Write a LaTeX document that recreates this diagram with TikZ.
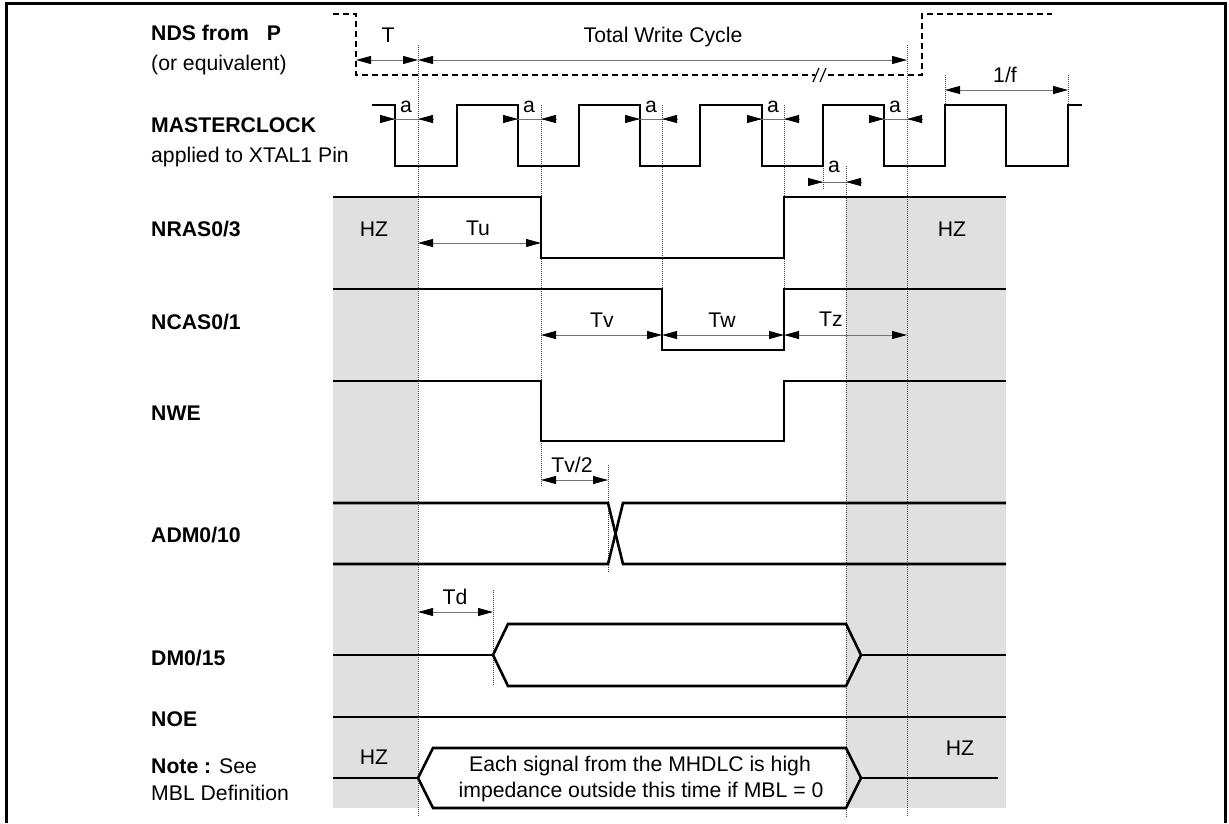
\documentclass[tikz,border=0pt]{standalone}
\usepackage{fontspec}
\setmainfont{Liberation Sans}
\usetikzlibrary{arrows.meta}
\tikzset{
  every node/.style={font=\fontsize{21.2}{25}\selectfont, inner sep=0pt},
  lbl/.style={anchor=west, text height=15.2pt, text depth=0pt},
  sig/.style={line width=2.6pt, line join=miter, line cap=butt},
  ndsdash/.style={line width=2.6pt, dash pattern=on 6pt off 4pt},
  vdot/.style={line width=0.8pt, draw=black!75, dash pattern=on 1pt off 1pt},
  hzfill/.style={fill=black!12},
  dimline/.style={line width=0.9pt, draw=black!55},
  dimtwo/.style={dimline, {Triangle[length=15pt,width=8pt,color=black]}-{Triangle[length=15pt,width=8pt,color=black]}},
  tipin/.style={line width=0.9pt, draw=black!55, -{Triangle[length=15pt,width=8pt,color=black]}},
}
\begin{document}
\begin{tikzpicture}[x=1pt,y=-1pt]
\useasboundingbox (0,0) rectangle (1229,823);
% high impedance bands
\fill[hzfill] (333,197) rectangle (418,808);
\fill[hzfill] (846,197) rectangle (1006,808);
% frame
\draw[line width=3pt] (6,823) -- (6,3) -- (1225,3) -- (1225,823);
% dotted reference lines
\draw[vdot] (418,45) -- (418,817);
\draw[vdot] (907,45) -- (907,817);
\draw[vdot] (846,166) -- (846,817);
\draw[vdot] (541,105) -- (541,487);
\draw[vdot] (662,105) -- (662,350);
\draw[vdot] (784,105) -- (784,289);
\draw[vdot] (823,166) -- (823,190);
\draw[vdot] (608,465) -- (608,572);
\draw[vdot] (493,590) -- (493,685);
\draw[vdot] (945,75) -- (945,105);
\draw[vdot] (1068,75) -- (1068,105);
% left labels
\node[lbl] (lnds) at (151,33) {\bfseries NDS from\hspace{18pt}P};
\node[lbl] (lnds2) at (151,63) {(or equivalent)};
\node[lbl] (lclk) at (151,125) {\bfseries MASTERCLOCK};
\node[lbl] (lclk2) at (151,155) {applied to XTAL1 Pin};
\node[lbl] (lras) at (151,229) {\bfseries NRAS0/3};
\node[lbl] (lcas) at (151,322) {\bfseries NCAS0/1};
\node[lbl] (lwe) at (151,413) {\bfseries NWE};
\node[lbl] (ladm) at (151,535) {\bfseries ADM0/10};
\node[lbl] (ldm) at (151,658) {\bfseries DM0/15};
\node[lbl] (loe) at (151,719) {\bfseries NOE};
\node[lbl] (lnote) at (151,766) {\textbf{Note :} See};
\node[lbl] (lnote2) at (151,793) {MBL Definition};
% NDS (dashed)
\draw[ndsdash] (333,14) -- (356,14) -- (356,75) -- (815,75);
\draw[ndsdash] (828,75) -- (922,75) -- (922,14) -- (1052,14);
\draw[line width=1.2pt] (813,82) -- (819,68);
\draw[line width=1.2pt] (820,82) -- (826,68);
% MASTERCLOCK
\draw[sig] (372,105) -- (395,105) -- (395,166) -- (457,166) -- (457,105) -- (518,105) -- (518,166) -- (579,166) -- (579,105) -- (640,105) -- (640,166) -- (700,166) -- (700,105) -- (762,105) -- (762,166) -- (823,166) -- (823,105) -- (884,105) -- (884,166) -- (945,166) -- (945,105) -- (1006,105) -- (1006,166) -- (1068,166) -- (1068,105) -- (1082,105);
% NRAS
\draw[sig] (333,197) -- (541,197) -- (541,258) -- (784,258) -- (784,197) -- (1006,197);
% NCAS
\draw[sig] (333,289) -- (662,289) -- (662,350) -- (784,350) -- (784,289) -- (1006,289);
% NWE
\draw[sig] (333,381) -- (541,381) -- (541,441) -- (784,441) -- (784,381) -- (1006,381);
% ADM
\draw[sig] (333,503) -- (608,503) -- (623,564) -- (1006,564);
\draw[sig] (333,564) -- (608,564) -- (623,503) -- (1006,503);
% DM
\draw[sig] (333,655) -- (493,655);
\draw[sig] (493,655) -- (508,624) -- (846,624) -- (861,655) -- (846,686) -- (508,686) -- cycle;
\draw[sig] (861,655) -- (1006,655);
% NOE
\draw[sig] (333,717) -- (1006,717);
% Note signal
\draw[sig] (333,778) -- (418,778);
\draw[sig] (418,778) -- (433,748) -- (846,748) -- (861,778) -- (846,808) -- (433,808) -- cycle;
\draw[sig] (861,778) -- (998,778);
\node (notetxt) at (640,766) {Each signal from the MHDLC is high};
\node (notetxt2) at (641,792) {impedance outside this time if MBL = 0};
% HZ labels
\node (hz1) at (374,229) {HZ};
\node (hz2) at (952,229) {HZ};
\node (hz3) at (374,757) {HZ};
\node (hz4) at (960,748) {HZ};
% dimension arrows (outward)
\draw[dimtwo] (356,60) -- (418,60);
\node (tT) at (388,35) {T};
\draw[dimtwo] (418,60) -- (907,60);
\node (tTWC) at (663,37) {Total Write Cycle};
\draw[dimtwo] (945,90) -- (1068,90);
\node (tf) at (1005,75) {1/f};
\draw[dimtwo] (418,243) -- (541,243);
\node (tu) at (478,228) {Tu};
\draw[dimtwo] (541,335) -- (662,335);
\node (tv) at (602,320) {Tv};
\draw[dimtwo] (662,335) -- (784,335);
\node (tw) at (722,320) {Tw};
\draw[dimtwo] (784,335) -- (907,335);
\node (tz) at (831,319) {Tz};
\draw[dimtwo] (541,480) -- (608,480);
\node (tv2) at (572,465) {Tv/2};
\draw[dimtwo] (418,612) -- (493,612);
\node (td) at (455,597) {Td};
% "a" arrows (inward)
\foreach \xa/\xb/\yy/\ly in {395/418/119/107, 518/541/119/107, 640/662/119/107, 762/784/119/107, 884/907/119/107, 823/846/182/167} {
  \draw[dimline] (\xa-15,\yy) -- (\xb+15,\yy);
  \draw[tipin] (\xa-15,\yy) -- (\xa,\yy);
  \draw[tipin] (\xb+15,\yy) -- (\xb,\yy);
  \node at (\xa+11,\ly) {a};
}
\end{tikzpicture}
\end{document}
